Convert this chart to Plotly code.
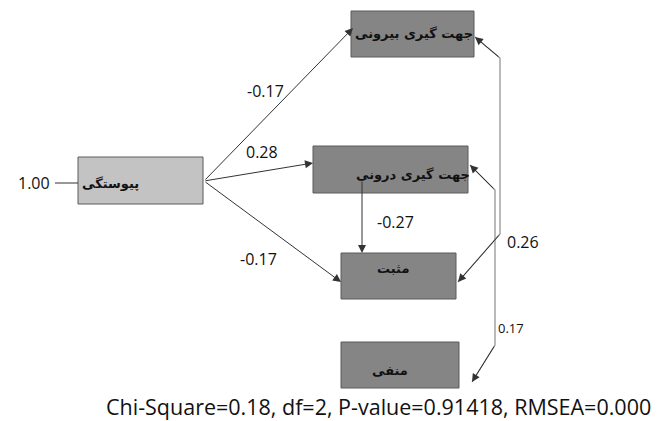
import plotly.graph_objects as go

# ---- data ----
node_labels = ["پیوستگی", "جهت گیری بیرونی", "جهت گیری درونی", "مثبت", "منفی"]
path_coefs = [-0.17, 0.28, -0.17, -0.27]          # پیوستگی->بیرونی, پیوستگی->درونی, پیوستگی->مثبت, درونی->مثبت
corr_coefs = [0.26, 0.17]                         # بیرونی<->مثبت, درونی<->منفی
exog_var = 1.00
fit_text = "Chi-Square=0.18, df=2, P-value=0.91418, RMSEA=0.000"

# ---- layout geometry (pixels, y down) ----
boxes = {
    0: (78, 157, 203, 204),
    1: (351, 11, 474, 57),
    2: (313, 146, 468, 193),
    3: (341, 253, 456, 299),
    4: (341, 342, 459, 388),
}
box_fill = {0: "#c3c3c3", 1: "#858585", 2: "#858585", 3: "#858585", 4: "#858585"}
text_pos = {0: (110, 183), 1: (414, 33), 2: (413, 174), 3: (393, 268), 4: (390, 370)}

paths = [  # (tail, tip, label position)
    ((204, 181), (353, 28), (265, 91)),
    ((204, 181), (313, 163), (262, 152)),
    ((204, 181), (341, 282), (258, 259)),
    ((362, 180), (362, 253), (395, 222)),
]
corrs = [
    ([(475, 37), (500, 58), (500, 234), (458, 282)], (523, 242), 16),
    ([(470, 165), (495, 190), (495, 345), (472, 382)], (511, 328), 13),
]

fig = go.Figure()
W, H = 661, 421

for i, (x0, y0, x1, y1) in boxes.items():
    fig.add_shape(type="rect", x0=x0, y0=y0, x1=x1, y1=y1,
                  fillcolor=box_fill[i], line=dict(color="#5a5a5a", width=1), layer="below")
    tx, ty = text_pos[i]
    fig.add_annotation(x=tx, y=ty, text="<b>%s</b>" % node_labels[i], showarrow=False,
                       font=dict(family="DejaVu Sans", size=13, color="#111111"),
                       xanchor="center", yanchor="middle")

# paths
for (tail, tip, lp), c in zip(paths, path_coefs):
    fig.add_annotation(x=tip[0], y=tip[1], ax=tail[0], ay=tail[1], xref="x", yref="y",
                       axref="x", ayref="y", text="", showarrow=True, arrowhead=2,
                       arrowsize=1.6, arrowwidth=1, arrowcolor="#333333", standoff=0)
    fig.add_annotation(x=lp[0], y=lp[1], text="%.2f" % c, showarrow=False,
                       font=dict(family="Open Sans", size=16, color="#111111"))

# correlations
for (pts, lp, fs), c in zip(corrs, corr_coefs):
    xs = [p[0] for p in pts]
    ys = [p[1] for p in pts]
    fig.add_trace(go.Scatter(x=xs, y=ys, mode="lines", line=dict(color="#8c8c8c", width=1.2),
                             hoverinfo="skip", showlegend=False))
    fig.add_annotation(x=pts[0][0], y=pts[0][1], ax=pts[1][0], ay=pts[1][1], xref="x", yref="y",
                       axref="x", ayref="y", text="", showarrow=True, arrowhead=2,
                       arrowsize=1.6, arrowwidth=1, arrowcolor="#333333", standoff=0)
    fig.add_annotation(x=pts[-1][0], y=pts[-1][1], ax=pts[-2][0], ay=pts[-2][1], xref="x", yref="y",
                       axref="x", ayref="y", text="", showarrow=True, arrowhead=2,
                       arrowsize=1.6, arrowwidth=1, arrowcolor="#333333", standoff=0)
    fig.add_annotation(x=lp[0], y=lp[1], text="%.2f" % c, showarrow=False,
                       font=dict(family="Open Sans", size=fs, color="#111111"))

# exogenous variance
fig.add_shape(type="line", x0=55, y0=183, x1=78, y1=183, line=dict(color="#333333", width=1))
fig.add_annotation(x=34, y=183, text="%.2f" % exog_var, showarrow=False,
                   font=dict(family="Open Sans", size=16, color="#111111"))

fig.add_annotation(x=378, y=406, text=fit_text, showarrow=False, borderpad=0,
                   font=dict(family="Open Sans", size=21.5, color="#111111"))

fig.update_layout(width=W, height=H, margin=dict(l=0, r=0, t=0, b=0),
                  paper_bgcolor="white", plot_bgcolor="white", showlegend=False,
                  xaxis=dict(range=[0, W], visible=False, fixedrange=True),
                  yaxis=dict(range=[H, 0], visible=False, fixedrange=True))
fig.write_html("out.html", config={"displayModeBar": False},
               post_script="document.body.style.margin='0';document.body.style.overflow='hidden';")
